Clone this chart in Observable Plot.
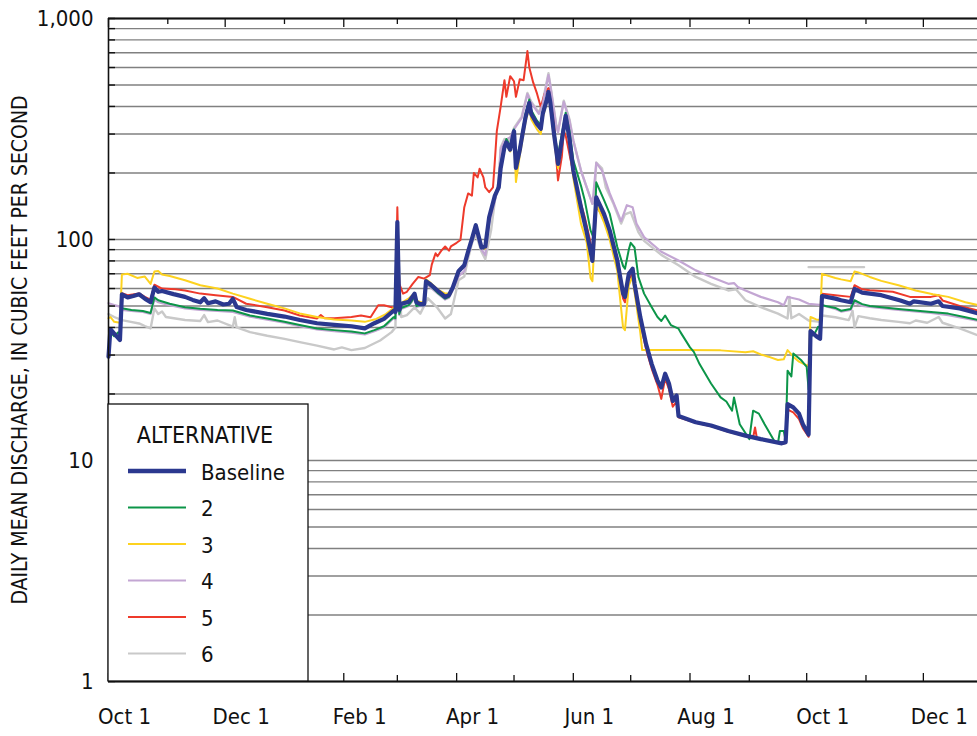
<!DOCTYPE html>
<html><head><meta charset="utf-8">
<script src="https://cdn.jsdelivr.net/npm/d3@7"></script>
<script src="https://cdn.jsdelivr.net/npm/@observablehq/plot@0.6"></script>
<style>body{margin:0;background:#fff;} #chart svg{display:block;}</style>
</head><body><div id="chart"></div>
<script>
// ---- DATA (days after Oct 1 of the first water year, daily mean discharge in ft3/s) ----
const baselineDays = [0,1,3,6,7,10,13,16,19,22,24,26,28,34,40,44,48,50,52,56,60,63,65,67,72,83,92,100,109,118,127,134,139,144,149,150,151,152,153,157,160,161,163,165,166,168,172,176,178,180,183,186,188,190,192,195,197,199,202,204,205,207,208,210,212,213,215,216,218,220,221,224,226,227,229,230,231,233,235,237,239,241,243,247,250,253,255,259,262,266,269,270,272,274,275,278,281,284,287,289,291,293,295,297,298,307,315,324,333,341,352,354,355,358,361,363,366,367,370,372,373,380,383,388,390,394,398,404,414,419,421,430,434,436,445,455];
const baselineCfs = [29.5,39.3,37.5,35.1,56.5,54.7,55.5,56.5,54,52,60.7,58,58.5,56.6,55,53.3,52,54.2,51.5,52.5,50.8,51.2,53.9,49.5,48,46.1,44.8,43.2,41.8,41.1,40.5,39.6,41.8,43.7,47.6,47,120,48,51.2,52.2,56.9,52,51,51,64.8,63,58.8,55,56,60.7,71.8,76.5,88.2,100.7,116,92,93,126,158,172,210,262,275,255,309,211,254,285,357,415,370,333,317,370,425,465,415,296,220,281,363,285,205,140,108,80,155,131,110,80.3,57,55,69.9,73.7,63,44.6,33.7,27.3,23,21.4,24.7,22.3,18.6,19.7,15.9,14.9,14.4,13.6,12.96,12.5,11.96,12.1,18,17.4,16.3,14.6,13.1,38.5,36.5,35.5,55.5,54,53.1,52,59.7,57.5,56.9,56,53,51.2,52.5,51.2,52.5,50,48.8,46.2];

const alt2Days = [0,1,3,5,6,7,12,18,22,24,26,32,40,48,57,65,74,83,92,100,109,118,127,134,139,144,149,150,151,152,153,157,160,161,163,165,166,168,172,176,178,180,183,186,188,190,192,195,197,199,202,204,205,207,208,210,212,213,215,216,218,220,221,224,226,227,229,230,231,233,235,237,239,241,243,247,249,252,254,255,259,262,266,269,270,272,273,275,277,280,284,287,289,291,294,298,299,304,306,309,315,320,323,326,327,330,335,337,340,343,348,350,351,353,354,355,357,358,362,365,366,367,369,371,372,373,380,383,388,390,394,398,413,430,439,448,455];
const alt2Cfs = [29.5,38,36.5,38,37.5,48.8,48,47.5,46.5,54.7,53.1,51.2,49.4,48.6,48,47.7,45.3,43.9,42.4,41,39.6,38.9,38.3,37.6,38.9,40.5,44.5,44,118,46,49,50.5,55,50,50.4,50.4,64,62,57.5,54,55,60,71.8,77,88,101,117,92,94,127,160,175,220,265,285,265,315,220,265,295,370,430,385,345,330,380,430,470,425,310,240,300,375,310,228,175,150,110,100,181.5,151,131,92.5,76,73.7,90,96.6,92,67.7,56.9,49.4,44.6,42.8,45.3,41,39.5,38.1,32.5,31,27.3,22.3,19.3,18.5,16.8,19.3,14.6,12.5,16.8,16.3,14.6,12.3,12,13.6,13.6,12.3,25.5,24,30.5,28.5,26.5,21,36.3,37.3,40.3,39.8,50.4,49,47.6,48.5,53.1,51,50,48.5,47,46.2,44.5,43.2];

const alt3Days = [0,1,3,6,7,10,15,19,22,24,26,28,32,40,48,57,65,74,83,92,100,109,118,127,134,140,145,149,150,151,152,154,157,160,161,163,165,166,168,172,176,179,180,183,186,188,190,192,195,197,199,202,204,205,207,208,210,212,213,215,218,220,221,224,226,227,230,231,233,235,237,239,241,243,247,250,252,253,255,259,262,266,269,270,272,274,275,278,279,290,300,320,333,337,341,345,350,353,355,358,361,366,367,370,372,373,380,383,388,390,392,398,404,413,422,431,439,448,455];
const alt3Cfs = [44,44.6,42.4,42,69.5,70,67,68,63,71.6,72,69.5,68.4,65.4,62.1,60,56.9,53.9,51.2,48.8,46.3,44.6,43.5,43,42.4,43.7,46,49,48.5,118,50,52.2,54.2,57,53,52,52,66,64,59.5,56.9,56.9,61,71.8,77,88,100,114,93,91,124,157,170,205,255,270,250,300,182,240,340,400,350,315,300,355,450,400,280,210,270,350,270,190,118,97,67,64.8,145,120,100,72,40,38.9,62,68,58,38,31.6,31.6,31.6,31.5,30.9,31.2,30.2,29.5,28.5,28.7,31.6,29.5,28,26.7,44.6,43.5,43.2,69.9,67,66,64.8,71.6,71,67.7,65,62.1,58.8,56.5,55,52,50.4];

const alt4Days = [0,3,6,7,12,18,22,24,26,32,40,48,57,65,74,83,92,100,109,118,127,134,139,144,149,150,151,152,153,157,160,161,163,165,166,168,172,176,178,180,183,186,188,190,192,195,197,199,202,204,205,207,210,212,216,219,221,225,227,230,231,234,235,238,241,243,247,250,253,255,258,262,268,271,274,276,280,289,298,307,315,324,327,329,333,341,350,353,355,357,361,366,373,380,383,388,390,394,398,413,430,439,448,455];
const alt4Cfs = [51.5,50.5,49.7,48,47.5,47,46,53.5,52,50.5,48.8,48,47.5,47,44.8,43.4,42,40.5,39.2,38.5,37.9,37.2,38.5,40,44,43.5,115,45.5,48.5,50,54.5,49.5,50,50,63,61,57,53.5,54.5,59,68,72,85,98,110,90,85,118,150,180,255,280,290,315,355,455,415,370,410,555,495,330,305,420,345,280,205,172,145,222,205,162,121,143,140,118,102.5,88,80.3,72.5,67.7,63,63.5,61,58.8,55,52,50.4,55,54.5,53.5,51.2,50.5,48.5,47.2,48,52,50,49.5,48,46.5,45.5,44,42.8];

const alt5Days = [0,1,3,6,7,10,16,19,22,24,28,35,40,48,56,65,72,83,92,100,109,111,113,118,127,132,137,141,144,147,150,151,152,154,156,159,162,165,168,169,171,172,174,176,178,179,182,184,186,188,190,191,193,194,196,197,199,201,202,203,205,207,208,210,212,213,215,217,219,220,222,224,226,228,230,231,233,234,235,237,238,239,242,245,249,252,253,255,259,262,266,269,270,272,274,275,278,281,284,287,289,291,293,295,297,298,307,315,324,333,337,338,339,341,352,354,355,358,361,363,366,367,370,372,373,380,388,390,394,398,410,419,430,434,436,445,455];
const alt5Cfs = [29.5,39.5,38,35.5,57.1,56,57,55,53.5,62.4,60,59.5,58.8,56.9,56,55,51.2,49.4,47.7,45.3,43.9,45.5,44,44,44.6,45.3,44.5,50.4,50.4,49.6,49,140,63,56.9,58,63,67.7,66.5,69,77,86.7,84,89,93,89,93,96.6,99.5,140,161.6,158,200,191,209,191,172,163.8,172,228,309,398,526,442,548,520,442,531,526,712,600,514,458,398,458,485,474,335,237,185,237,309,296,220,167,126,96.6,80,140,127,106,77,54,52,66,70,60,42,32,26,22,19,23.5,21,17.5,18.5,15.7,14.8,14.3,13.5,12.9,12.7,14.1,12.6,12.5,11.9,12,17,16.5,15.4,14,12.8,38.9,37,36,56.9,56,55,62.1,59.5,59,58,55,55,56,53,50,47.6];

const alt6Days = [0,3,7,11,16,19,22,24,26,28,30,40,48,50,52,57,65,66,67,74,83,92,100,109,118,122,127,134,142,148,150,151,153,156,160,163,167,172,176,179,183,186,188,190,192,195,197,200,202,204,205,207,210,212,216,219,221,225,227,230,231,234,235,238,241,243,247,250,253,254,255,258,260,264,268,270,273,277,280,289,298,307,315,324,328,333,341,350,355,356,357,361,366,372,373,380,387,389,390,392,398,404,413,419,422,428,434,436,445,455];
const alt6Cfs = [46,44.6,43.2,42.5,41.7,40.6,39.6,48.8,46,47.2,44.6,43.2,42.8,45.5,42.3,43,40.3,44.5,40,38.1,36.7,35.5,34.3,33.1,31.8,32.5,31.6,32.3,34.9,38.1,40,118,44.6,45.5,49.3,46.2,54.2,49,43.9,46,65.4,68,82,96,106,88,81.5,110,150,185,261,285,280,320,360,460,420,375,420,565,500,333,310,425,350,281,205,172,145,150,223,210,172,145,118,130,133,108,98.6,85.2,76.4,67.7,63,58.8,59.5,53.1,49.4,46.2,43.9,55,44,46,43,42.4,45.3,44.5,43.2,47.5,40,45,44,43.2,42.4,41.8,43,42,44.6,42,39.6,36.7];
// short light-gray horizontal stroke drawn in the original near the second October
const alt6FragmentDays = [366,395];
const alt6FragmentCfs = [75,75];

const legendNames = ["Baseline","2","3","4","5","6"];
const yTickValues = [1,10,100,1000];
const yTickLabels = ["1","10","100","1,000"];
const xTickLabels = ["Oct 1","Dec 1","Feb 1","Apr 1","Jun 1","Aug 1","Oct 1","Dec 1"];
const yTitle = "DAILY MEAN DISCHARGE, IN CUBIC FEET PER SECOND";
const legendTitle = "ALTERNATIVE";

// ---- helpers ----
const T0 = Date.UTC(2001, 9, 1);
const dayToDate = d => new Date(T0 + d * 864e5);
function pick(names){
  const c = document.createElement("canvas").getContext("2d");
  const s = "ABCDEFGHIJKLMNOP abcdefghijk 0123456789";
  c.font = "40px monospace"; const base = c.measureText(s).width;
  for (const n of names){ c.font = `40px "${n}", monospace`; if (Math.abs(c.measureText(s).width - base) > 0.5) return n; }
  return null;
}
const narrow = pick(["Liberation Sans Narrow","DejaVu Sans Condensed","Roboto Condensed","Arial Narrow"]);
const FONT = narrow ? `"${narrow}", sans-serif` : `"Liberation Sans", Arial, sans-serif`;

const styles = {
  "Baseline": {color:"#2b388f", width:4.2},
  "2": {color:"#0c9548", width:2},
  "3": {color:"#fdd21f", width:2},
  "4": {color:"#c3a6d3", width:2.2},
  "5": {color:"#ee3a2b", width:2},
  "6": {color:"#c9c9c9", width:2.4}
};
const seriesData = {
  "Baseline": [baselineDays, baselineCfs],
  "2": [alt2Days, alt2Cfs],
  "3": [alt3Days, alt3Cfs],
  "4": [alt4Days, alt4Cfs],
  "5": [alt5Days, alt5Cfs],
  "6": [alt6Days, alt6Cfs]
};
const toRows = (days, vals) => days.map((d,i) => ({date: dayToDate(d), cfs: vals[i]}));
const drawOrder = ["6","5","4","3","2","Baseline"];

const gridValues = [];
for (const dec of [1,10,100]) for (let k=1;k<=9;k++) gridValues.push(dec*k);
gridValues.push(1000);

const months = d3.utcMonth.range(dayToDate(0), dayToDate(456));
const majorMonths = months.filter((d,i) => i % 2 === 0);
const minorMonths = months.filter((d,i) => i % 2 === 1);

const W = 977, H = 736, ML = 108, MR = 0, MT = 18, MB = 55;
const innerW = W - ML - MR, innerH = H - MT - MB;

const marks = [
  Plot.ruleY(gridValues, {stroke:"#808080", strokeWidth:1.4}),
  Plot.line(toRows(alt6FragmentDays, alt6FragmentCfs), {x:"date", y:"cfs", stroke:styles["6"].color, strokeWidth:2.4})
];
for (const k of drawOrder){
  const [d,v] = seriesData[k];
  marks.push(Plot.line(toRows(d,v), {x:"date", y:"cfs", stroke:styles[k].color, strokeWidth:styles[k].width, strokeLinejoin:"round"}));
}
marks.push(
  Plot.ruleY(gridValues, {stroke:"#111", strokeWidth:1.4, insetRight: innerW - 7}),
  Plot.ruleX(majorMonths, {stroke:"#111", strokeWidth:1.3, insetTop: innerH - 8}),
  Plot.ruleX(minorMonths, {stroke:"#111", strokeWidth:1.3, insetTop: innerH - 6}),
  Plot.ruleX(majorMonths, {stroke:"#111", strokeWidth:1.3, insetBottom: innerH - 9}),
  Plot.ruleX(minorMonths, {stroke:"#111", strokeWidth:1.3, insetBottom: innerH - 6}),
  Plot.ruleY([1000], {stroke:"#111", strokeWidth:2}),
  Plot.ruleY([1], {stroke:"#111", strokeWidth:2}),
  Plot.ruleX([dayToDate(0)], {stroke:"#111", strokeWidth:1.6}),
  Plot.axisY(yTickValues, {tickSize:0, tickPadding:15, label:null, tickFormat:(d)=>yTickLabels[yTickValues.indexOf(d)], fontSize:22, fill:"#111"}),
  Plot.axisX(majorMonths, {tickSize:0, tickPadding:27, dx:16, label:null, tickFormat:(d,i)=>xTickLabels[i], fontSize:22, fill:"#111"}),
  Plot.text([yTitle], {frameAnchor:"left", dx:-88, rotate:-90, textAnchor:"middle", fontSize:21, fill:"#111", text:d=>d})
);

const plot = Plot.plot({
  width: W, height: H,
  marginLeft: ML, marginRight: MR, marginTop: MT, marginBottom: MB,
  style: {fontFamily: FONT, fontSize:"22px", background:"#fff", color:"#111"},
  x: {type:"utc", domain:[dayToDate(0), dayToDate(454.3)], axis:null, label:null},
  y: {type:"log", domain:[1,1000], axis:null, label:null},
  marks
});
document.getElementById("chart").appendChild(plot);

// ---- legend box ----
const svg = d3.select(plot);
const g = svg.append("g").attr("font-family", FONT).attr("fill", "#111").attr("text-anchor", "start");
g.append("rect").attr("x", ML).attr("y", 404).attr("width", 200).attr("height", H - MB - 404)
  .attr("fill", "#fff").attr("stroke", "#111").attr("stroke-width", 1.3);
g.append("text").attr("x", 205).attr("y", 443).attr("text-anchor", "middle").attr("font-size", 23).text(legendTitle);
legendNames.forEach((n, i) => {
  const cy = 471 + i * 36.5;
  g.append("line").attr("x1", 128).attr("x2", 186).attr("y1", cy).attr("y2", cy)
    .attr("stroke", styles[n].color).attr("stroke-width", n === "Baseline" ? 4.5 : 2);
  g.append("text").attr("x", 201).attr("y", cy + 8.5).attr("text-anchor", "start").attr("font-size", 22).text(n);
});
</script>
</body></html>
